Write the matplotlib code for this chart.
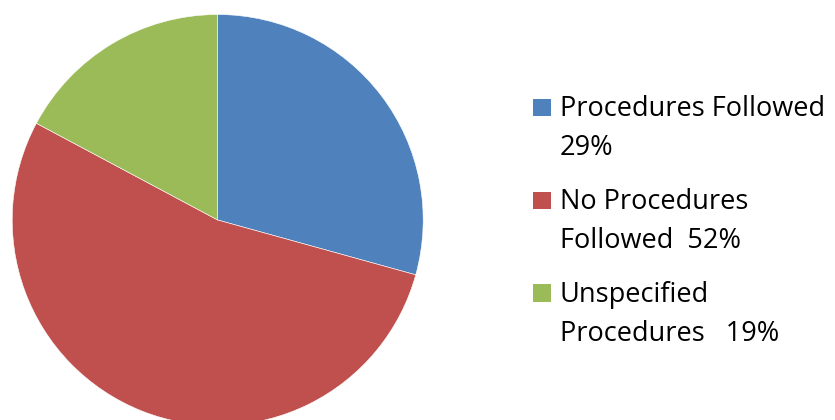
import matplotlib.pyplot as plt
from matplotlib.patches import Rectangle

# values; the legend text keeps the original labels
shares = [29.3, 53.5, 17.2]
labels = ['Procedures Followed\n29%', 'No Procedures\nFollowed  52%', 'Unspecified\nProcedures   19%']
colors = ['#4F81BD', '#C0504D', '#9BBB59']

W, H = 835, 420
fig = plt.figure(figsize=(W / 100, H / 100), dpi=100)

# pie: centre (217.7, 220) px, radius 205.5 px
cx, cy, r = 217.7, 220, 205.5
ax = fig.add_axes([(cx - r) / W, (H - cy - r) / H, 2 * r / W, 2 * r / H])
ax.pie(shares, colors=colors, startangle=90, counterclock=False, radius=1,
       wedgeprops=dict(linewidth=0.4, edgecolor='white'))
ax.set_xlim(-1, 1)
ax.set_ylim(-1, 1)
ax.set_aspect('auto')
ax.axis('off')

# legend drawn by hand so the marker sits on the first line
first_baselines = [116, 209.3, 301.7]
line_gap = 39
sq = 17.5
for lab, col, yb in zip(labels, colors, first_baselines):
    fig.patches.append(Rectangle((533 / W, (H - yb) / H), sq / W, sq / H,
                                 transform=fig.transFigure, facecolor=col,
                                 edgecolor='none'))
    for k, line in enumerate(lab.split('\n')):
        fig.text(560 / W, (H - yb - k * line_gap) / H, line, fontsize=19.5,
                 family='Open Sans', va='baseline', ha='left', color='black')

fig.savefig('out.png', dpi=100)
